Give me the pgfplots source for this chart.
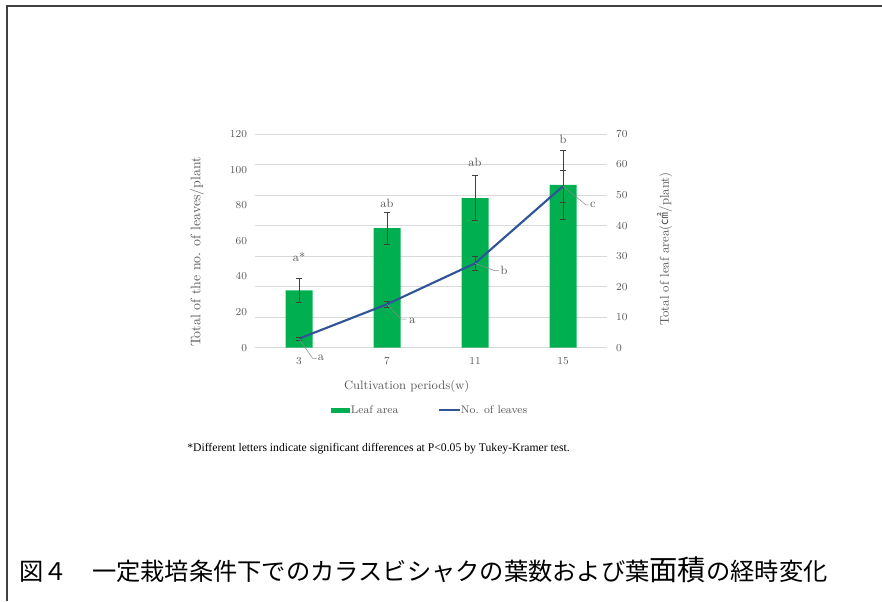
\documentclass[border=0pt]{standalone}
\usepackage{pgfplots}
\pgfplotsset{compat=1.18}
\usepackage{pgfplotstable}
\usepackage{fontspec}
\newfontfamily\cjk{Noto Sans CJK JP}
\newfontfamily\tnr{Liberation Serif}
\definecolor{barG}{HTML}{00B050}
\definecolor{lineB}{HTML}{2F5597}
\definecolor{txt}{HTML}{595959}
\definecolor{gridc}{HTML}{D9D9D9}
\definecolor{errc}{HTML}{404040}
\pgfplotstableread{
x y e
0 18.75 3.85
1 39.2 5.3
2 49.0 7.4
3 53.35 11.25
}\areatab
\pgfplotstableread{
x y e
0 5.1 0.8
1 24.4 1.5
2 47.4 4.0
3 90.7 9.0
}\leaftab
\begin{document}
\begin{tikzpicture}
\begin{scope}[x=0.75pt,y=-0.75pt]
\path[use as bounding box] (0,0) rectangle (882,601);
\draw[line width=1.5pt, black!75] (7,601) -- (7,6) -- (882,6);
% axis titles
\node[txt, rotate=90, font=\fontsize{10.4}{12}\selectfont] at (197,252) {Total of the no. of leaves/plant};
\node[txt, rotate=90, font=\fontsize{9.6}{12}\selectfont] at (665,249) {Total of leaf area({\cjk ㎠}/plant)};
\node[txt, font=\fontsize{9.2}{12}\selectfont] at (406.7,386) {Cultivation periods(w)};
% legend
\fill[barG] (331,407.5) rectangle (350,412.5);
\node[txt, anchor=west, inner sep=0.5pt, font=\fontsize{8.3}{10}\selectfont] at (350,410) {Leaf area};
\draw[lineB, line width=1.5pt] (439,410) -- (460,410);
\node[txt, anchor=west, inner sep=0.5pt, font=\fontsize{8.3}{10}\selectfont] at (460,410) {No. of leaves};
% footnote
\node[anchor=west, inner sep=0pt, font=\tnr\fontsize{8.75}{10}\selectfont] at (187,449) {*Different letters indicate significant differences at P<0.05 by Tukey-Kramer test.};
% caption
\node[anchor=west, inner sep=0pt, font=\cjk\fontsize{18.2}{20}\selectfont] at (19,570) {図４　一定栽培条件下でのカラスビシャクの葉数および葉{\fontsize{21.2}{22}\selectfont 面積}の経時変化};
\end{scope}
\pgfplotsset{base/.style={at={(191.25pt,-260.775pt)}, anchor=south west, scale only axis,
  width=264pt, height=160.3pt, xmin=-0.5, xmax=3.5, ymin=0,
  axis line style={draw=none}, major tick style={draw=none},
  tick label style={font=\fontsize{8}{9}\selectfont, text=txt}, clip=false}}
% bars: leaf area, right axis
\begin{axis}[base, ymax=70, ytick={0,10,...,70}, yticklabel pos=right,
  ymajorgrids, grid style={gridc, line width=0.6pt},
  xtick={0,1,2,3}, xticklabels={3,7,11,15},
  xticklabel style={yshift=-3.5pt}, yticklabel style={xshift=3.3pt}]
\addplot[ybar, bar width=20.25pt, fill=barG, draw=none,
  error bars/.cd, y dir=both, y explicit,
  error bar style={errc, line width=0.5pt},
  error mark options={rotate=90, errc, mark size=2pt, line width=0.5pt}]
  table[x=x, y=y, y error=e]{\areatab};
\node[txt, font=\fontsize{9}{10}\selectfont] at (axis cs:0,29.8) {a*};
\node[txt, font=\fontsize{9}{10}\selectfont] at (axis cs:1,47.4) {ab};
\node[txt, font=\fontsize{9}{10}\selectfont] at (axis cs:2,60.8) {ab};
\node[txt, font=\fontsize{9}{10}\selectfont] at (axis cs:3,68.1) {b};
\end{axis}
% line: number of leaves, left axis
\begin{axis}[base, ymax=120, ytick={0,20,...,120}, xtick=\empty,
  yticklabel style={xshift=-2.5pt}]
\addplot[lineB, line width=1.6pt,
  error bars/.cd, y dir=both, y explicit,
  error bar style={errc, line width=0.5pt},
  error mark options={rotate=90, errc, mark size=2pt, line width=0.5pt}]
  table[x=x, y=y, y error=e]{\leaftab};
\draw[txt!70, line width=0.4pt] (axis cs:0,5.1) -- (axis cs:0.155,-6) -- (axis cs:0.2,-6);
\draw[txt!70, line width=0.4pt] (axis cs:1,24.4) -- (axis cs:1.16,16) -- (axis cs:1.22,16);
\draw[txt!70, line width=0.4pt] (axis cs:2,47.4) -- (axis cs:2.22,43.3) -- (axis cs:2.27,43.3);
\draw[txt!70, line width=0.4pt] (axis cs:3,90.7) -- (axis cs:3.26,80.2) -- (axis cs:3.29,80.2);
\node[txt, font=\fontsize{9}{10}\selectfont] at (axis cs:0.25,-5.8) {a};
\node[txt, font=\fontsize{9}{10}\selectfont] at (axis cs:1.29,15) {a};
\node[txt, font=\fontsize{9}{10}\selectfont] at (axis cs:2.33,43.5) {b};
\node[txt, font=\fontsize{9}{10}\selectfont] at (axis cs:3.34,80.2) {c};
\end{axis}
\end{tikzpicture}
\end{document}
